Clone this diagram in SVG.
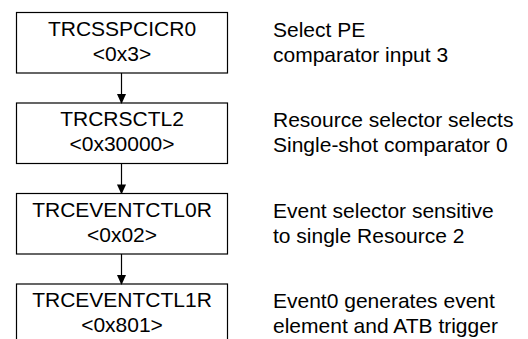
<svg xmlns="http://www.w3.org/2000/svg" width="528" height="339" viewBox="0 0 528 339">
<style>
rect.box{fill:#fff;stroke:#000;stroke-width:1.2}
text{font-family:"Liberation Sans",Arial,sans-serif;font-size:21px;fill:#000}
text.c{text-anchor:middle}
.conn line{stroke:#000;stroke-width:1.2}
</style>
<defs>
<marker id="ah" markerWidth="10" markerHeight="11" refX="10" refY="5" orient="auto" markerUnits="userSpaceOnUse" viewBox="0 0 11 10">
<path d="M0,0 L11,5 L0,10 Z" fill="#000"/>
</marker>
</defs>
<rect width="528" height="339" fill="#fff"/>
<g id="n1">
<rect class="box" x="16.5" y="12.5" width="211" height="60.5"/>
<text class="c" x="122" y="35.5">TRCSSPCICR0</text>
<text class="c" x="122" y="60.5">&lt;0x3&gt;</text>
</g>
<g id="n2">
<rect class="box" x="16.5" y="103" width="211" height="60.5"/>
<text class="c" x="122" y="126">TRCRSCTL2</text>
<text class="c" x="122" y="151">&lt;0x30000&gt;</text>
</g>
<g id="n3">
<rect class="box" x="16.5" y="193.5" width="211" height="60.5"/>
<text class="c" x="122" y="216.5">TRCEVENTCTL0R</text>
<text class="c" x="122" y="241.5">&lt;0x02&gt;</text>
</g>
<g id="n4">
<rect class="box" x="16.5" y="284" width="211" height="70"/>
<text class="c" x="122" y="307">TRCEVENTCTL1R</text>
<text class="c" x="122" y="332">&lt;0x801&gt;</text>
</g>
<g id="labels">
<text x="273" y="36.5">Select PE</text>
<text x="273" y="61.5">comparator input 3</text>
<text x="273" y="127">Resource selector selects</text>
<text x="273" y="152">Single-shot comparator 0</text>
<text x="273" y="217.5">Event selector sensitive</text>
<text x="273" y="242.5">to single Resource 2</text>
<text x="273" y="308">Event0 generates event</text>
<text x="273" y="333">element and ATB trigger</text>
</g>
<g id="connectors" class="conn">
<line x1="121.5" y1="73" x2="121.5" y2="103" marker-end="url(#ah)"/>
<line x1="121.5" y1="163.5" x2="121.5" y2="193.5" marker-end="url(#ah)"/>
<line x1="121.5" y1="254" x2="121.5" y2="284" marker-end="url(#ah)"/>
</g>
</svg>
